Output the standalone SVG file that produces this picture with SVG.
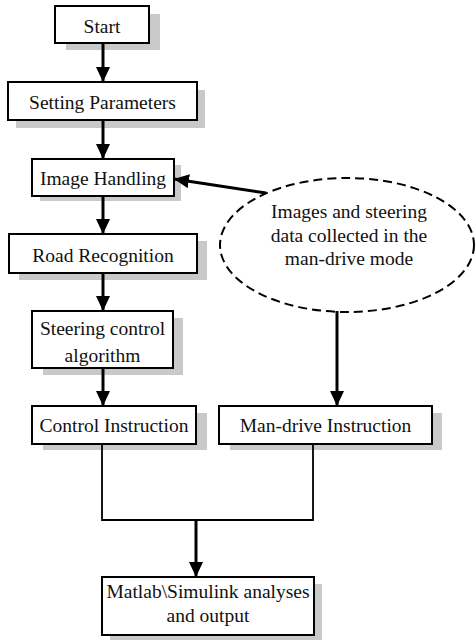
<svg xmlns="http://www.w3.org/2000/svg" width="476" height="640" viewBox="0 0 476 640">
  <style>
    .box { fill: #ffffff; stroke: #000000; stroke-width: 2; }
    .shadow { fill: #c9c9c9; stroke: none; }
    .label { font-family: "Liberation Serif", "Times New Roman", serif; font-size: 19.5px; fill: #111111; text-anchor: middle; }
    .arrow { stroke: #000000; stroke-width: 3; fill: none; marker-end: url(#head); }
    .wire { stroke: #000000; stroke-width: 1.8; fill: none; }
    .cloud { fill: #ffffff; stroke: #000000; stroke-width: 2; stroke-dasharray: 9 5; }
  </style>
  <defs>
    <marker id="head" markerUnits="userSpaceOnUse" markerWidth="16" markerHeight="14" refX="15" refY="7" orient="auto">
      <path d="M0,0 L15,7 L0,14 z" fill="#000000"/>
    </marker>
  </defs>
  <rect width="476" height="640" fill="#ffffff"/>

  <g id="start">
    <rect class="shadow" x="66" y="14" width="94" height="36"/>
    <rect class="box" x="55" y="6" width="94" height="37"/>
    <text class="label" x="102" y="33">Start</text>
  </g>

  <g id="setting-parameters">
    <rect class="shadow" x="16" y="90" width="189" height="38"/>
    <rect class="box" x="8" y="82" width="189" height="38"/>
    <text class="label" x="102.5" y="109">Setting Parameters</text>
  </g>

  <g id="image-handling">
    <rect class="shadow" x="40" y="165" width="141" height="36"/>
    <rect class="box" x="32" y="159" width="142" height="37"/>
    <text class="label" x="103" y="185">Image Handling</text>
  </g>

  <g id="road-recognition">
    <rect class="shadow" x="19" y="241" width="188" height="39"/>
    <rect class="box" x="9" y="234" width="188" height="39"/>
    <text class="label" x="103" y="262">Road Recognition</text>
  </g>

  <g id="steering-control">
    <rect class="shadow" x="43" y="318" width="140" height="57"/>
    <rect class="box" x="32" y="311" width="141" height="57"/>
    <text class="label" x="102.5" y="335">Steering control</text>
    <text class="label" x="102.5" y="362">algorithm</text>
  </g>

  <g id="control-instruction">
    <rect class="shadow" x="43" y="413" width="164" height="37"/>
    <rect class="box" x="32" y="406" width="164" height="38"/>
    <text class="label" x="114" y="432">Control Instruction</text>
  </g>

  <g id="man-drive-data">
    <ellipse class="cloud" cx="347" cy="245" rx="127" ry="67"/>
    <text class="label" x="349" y="218">Images and steering</text>
    <text class="label" x="349" y="242">data collected in the</text>
    <text class="label" x="349" y="265">man-drive mode</text>
  </g>

  <g id="man-drive-instruction">
    <rect class="shadow" x="230" y="413" width="212" height="37"/>
    <rect class="box" x="219" y="406" width="213" height="38"/>
    <text class="label" x="325.5" y="432">Man-drive Instruction</text>
  </g>

  <g id="matlab-output">
    <rect class="shadow" x="110" y="584" width="212" height="56"/>
    <rect class="box" x="102" y="577" width="212" height="58"/>
    <text class="label" x="208" y="598">Matlab\Simulink analyses</text>
    <text class="label" x="208" y="622">and output</text>
  </g>

  <g id="connectors">
    <line class="arrow" x1="103" y1="43" x2="103" y2="82"/>
    <line class="arrow" x1="103" y1="120" x2="103" y2="159"/>
    <line class="arrow" x1="103" y1="196" x2="103" y2="234"/>
    <line class="arrow" x1="103" y1="273" x2="103" y2="311"/>
    <line class="arrow" x1="103" y1="368" x2="103" y2="406"/>
    <line class="arrow" x1="266" y1="193" x2="174" y2="179"/>
    <line class="arrow" x1="337" y1="311" x2="337" y2="406"/>
    <polyline class="wire" points="102,444 102,520 313,520 313,444"/>
    <line class="arrow" x1="196" y1="520" x2="196" y2="577"/>
  </g>
</svg>
